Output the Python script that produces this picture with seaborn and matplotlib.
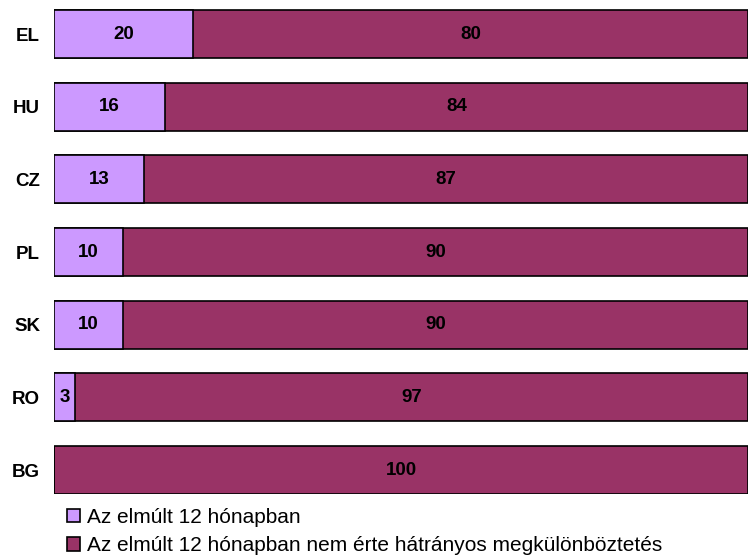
import matplotlib
matplotlib.use("Agg")
import matplotlib.pyplot as plt
import seaborn as sns
import pandas as pd
from matplotlib.patches import Patch

# data
countries = ["EL", "HU", "CZ", "PL", "SK", "RO", "BG"]
last_12_months = [20, 16, 13, 10, 10, 3, 0]
not_discriminated = [80, 84, 87, 90, 90, 97, 100]
series_names = ["Az elmúlt 12 hónapban",
                "Az elmúlt 12 hónapban nem érte hátrányos megkülönböztetés"]

light = "#CC99FF"
dark = "#993366"

sns.set_style("white")
plt.rcParams["font.family"] = ["Liberation Sans", "DejaVu Sans"]
plt.rcParams["text.color"] = "black"
plt.rcParams["ytick.color"] = "black"

df = pd.DataFrame({"country": countries,
                   "light": last_12_months,
                   "dark": not_discriminated})
df["total"] = df["light"] + df["dark"]

fig = plt.figure(figsize=(7.48, 5.6), dpi=100)
ax = fig.add_axes([54 / 748, 66 / 560, 694 / 748, 494 / 560])

# stacked bars: total first, then the first segment on top
sns.barplot(data=df, x="total", y="country", color=dark, edgecolor="black",
            linewidth=1.2, width=0.66, saturation=1, ax=ax)
sns.barplot(data=df, x="light", y="country", color=light, edgecolor="black",
            linewidth=1.2, width=0.66, saturation=1, ax=ax)

for i, row in df.iterrows():
    if row["light"] > 0:
        ax.text(row["light"] / 2, i, str(row["light"]), ha="center",
                va="center", fontsize=13.5, fontweight="bold")
    ax.text(row["light"] + row["dark"] / 2, i, str(row["dark"]), ha="center",
            va="center", fontsize=13.5, fontweight="bold")

ax.set_xlim(0, 100)
ax.set_ylim(6.33, -0.47)
ax.set_xlabel("")
ax.set_ylabel("")
ax.set_xticks([])
ax.tick_params(axis="y", length=0, pad=10)
for lbl in ax.get_yticklabels():
    lbl.set_fontweight("bold")
    lbl.set_fontsize(13.5)
sns.despine(ax=ax, left=True, bottom=True)

handles = [Patch(facecolor=light, edgecolor="black", linewidth=1.2),
           Patch(facecolor=dark, edgecolor="black", linewidth=1.2)]
fig.legend(handles, series_names, loc="upper left",
           bbox_to_anchor=(67 / 748, 1 - 508 / 560), frameon=False,
           fontsize=15, handlelength=0.6, handleheight=0.6,
           handletextpad=0.35, labelspacing=0.45, borderpad=0,
           borderaxespad=0)

fig.savefig("out.png", dpi=100)
